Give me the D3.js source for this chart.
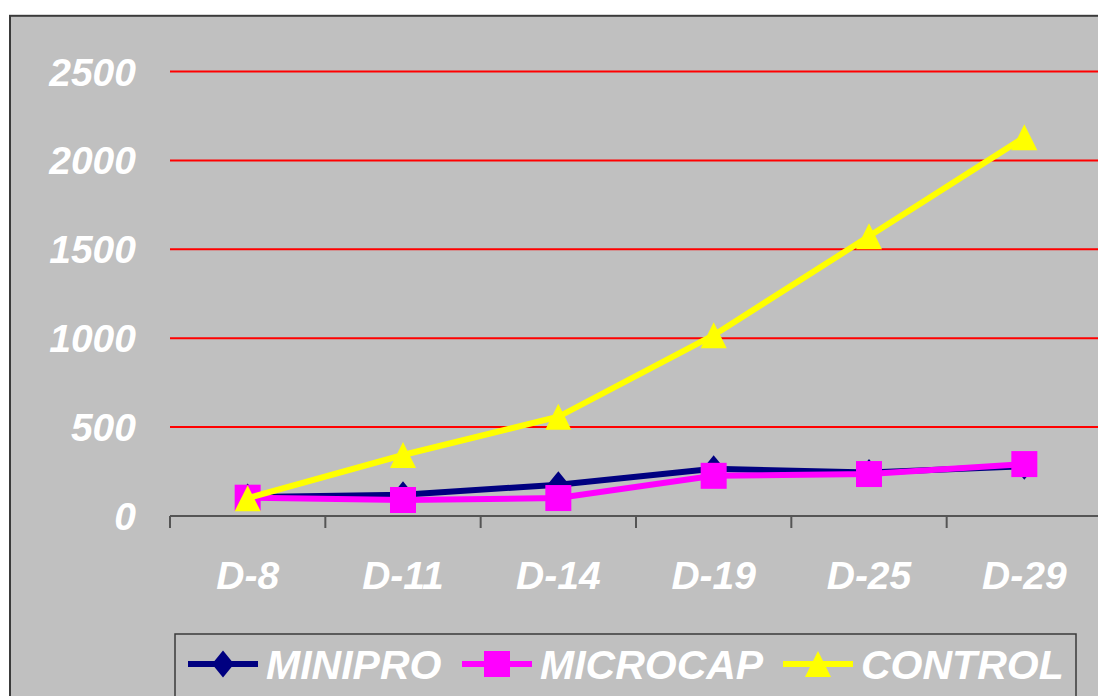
<!DOCTYPE html>
<html><head><meta charset="utf-8">
<script src="https://cdn.jsdelivr.net/npm/d3@7"></script>
<style>html,body{margin:0;padding:0;background:#fff;overflow:hidden}</style>
</head><body>
<svg id="c" width="1098" height="696"></svg>
<script>
const categories = ["D-8","D-11","D-14","D-19","D-25","D-29"];
const minipro  = [107, 120, 176, 266, 244, 280];
const microcap = [103, 90, 101, 226, 236, 292];
const control  = [100, 343, 558, 1017, 1573, 2130];
const yTicks = [0, 500, 1000, 1500, 2000, 2500];
const seriesNames = ["MINIPRO","MICROCAP","CONTROL"];
const seriesColors = ["#000080","#FF00FF","#FFFF00"];
const seriesMarkers = ["diamond","square","triangle"];

const svg = d3.select("#c");
const FONT = "'Liberation Sans', Arial, sans-serif";

// chart area background + border
svg.append("rect").attr("x",10).attr("y",15.8).attr("width",1200).attr("height",800)
  .attr("fill","#C0C0C0").attr("stroke","#3a3a3a").attr("stroke-width",2);

const x = d3.scaleBand().domain(categories).range([170, 1102]);
const y = d3.scaleLinear().domain([0, 2500]).range([516, 71.5]);

// gridlines
svg.append("g").selectAll("line").data(yTicks.filter(d=>d>0)).join("line")
  .attr("x1",170).attr("x2",1100).attr("y1",d=>y(d)).attr("y2",d=>y(d))
  .attr("stroke","#FF0000").attr("stroke-width",2);

// y labels
svg.append("g").selectAll("text").data(yTicks).join("text")
  .attr("x",136).attr("y",d=>y(d)).attr("text-anchor","end").attr("dy","0.36em")
  .attr("font-family",FONT).attr("font-weight","bold").attr("font-style","italic")
  .attr("font-size",39).attr("fill","#fff").text(d=>d);

// x axis
const xAxis = d3.axisBottom(x).tickSize(0).tickFormat("");
const gx = svg.append("g").attr("transform","translate(0,516)").call(xAxis);
gx.select(".domain").attr("stroke","#555").attr("stroke-width",2).attr("d","M170,0H1100");
const edges = categories.map(c=>x(c));
gx.selectAll(".edgeTick").data(edges).join("line").attr("class","edgeTick")
  .attr("x1",d=>d).attr("x2",d=>d).attr("y1",0).attr("y2",12)
  .attr("stroke","#555").attr("stroke-width",2);

// x labels
svg.append("g").selectAll("text").data(categories).join("text")
  .attr("x",d=>x(d)+x.bandwidth()/2).attr("y",575).attr("dy","0.36em")
  .attr("text-anchor","middle")
  .attr("font-family",FONT).attr("font-weight","bold").attr("font-style","italic")
  .attr("font-size",39).attr("fill","#fff").text(d=>d);

function markerPath(type){
  if(type==="diamond") return "M0,-13.5L11,0L0,13.5L-11,0Z";
  if(type==="square") return "M-13,-13H13V13H-13Z";
  return "M0,-13L13,13H-13Z";
}

const allSeries = [minipro, microcap, control];
const cx = d=>x(d)+x.bandwidth()/2;
allSeries.forEach((vals,i)=>{
  const pts = categories.map((c,j)=>[cx(c), y(vals[j])]);
  const g = svg.append("g");
  g.append("path").attr("d", d3.line()(pts)).attr("fill","none")
    .attr("stroke",seriesColors[i]).attr("stroke-width",6).attr("stroke-linejoin","miter");
  g.selectAll("path.m").data(pts).join("path").attr("class","m")
    .attr("transform",p=>`translate(${p[0]},${p[1]})`)
    .attr("d",markerPath(seriesMarkers[i])).attr("fill",seriesColors[i]);
});

// legend
svg.append("rect").attr("x",175).attr("y",634).attr("width",901).attr("height",100)
  .attr("fill","#C0C0C0").attr("stroke","#3a3a3a").attr("stroke-width",1.5);
const legX = [188, 462, 783];
const lg = svg.append("g");
seriesNames.forEach((n,i)=>{
  const g = lg.append("g").attr("transform",`translate(${legX[i]},664)`);
  g.append("line").attr("x1",0).attr("x2",70).attr("y1",0).attr("y2",0)
    .attr("stroke",seriesColors[i]).attr("stroke-width",6);
  g.append("path").attr("transform","translate(35,0)").attr("d",markerPath(seriesMarkers[i]))
    .attr("fill",seriesColors[i]);
  g.append("text").attr("x",78).attr("y",0).attr("dy","0.36em")
    .attr("font-family",FONT).attr("font-weight","bold").attr("font-style","italic")
    .attr("font-size",41).attr("fill","#fff").text(n);
});
</script>
</body></html>
